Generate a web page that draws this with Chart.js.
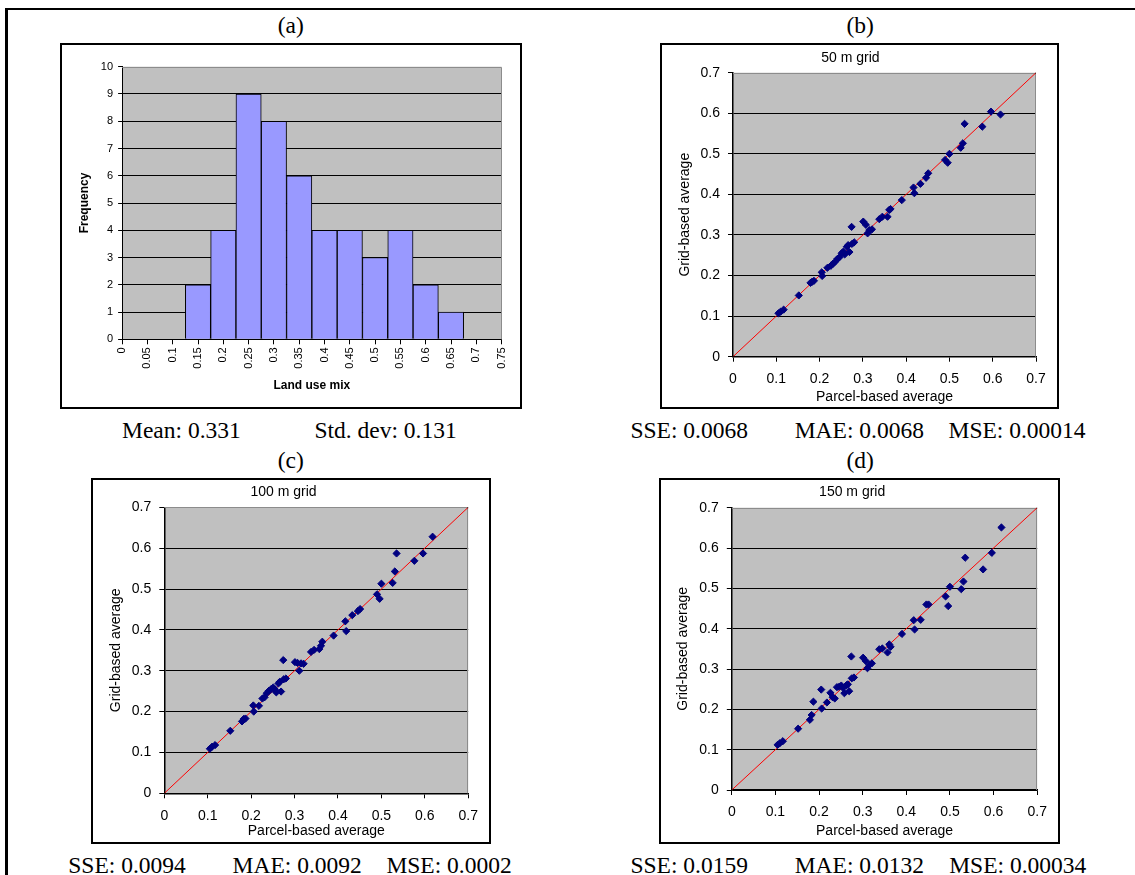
<!DOCTYPE html>
<html><head><meta charset="utf-8">
<script src="https://cdn.jsdelivr.net/npm/chart.js@4.4.0/dist/chart.umd.min.js"></script>
<style>
html,body{margin:0;padding:0;background:#fff;}
body{width:1135px;height:875px;position:relative;overflow:hidden;font-family:"Liberation Serif","Times New Roman",serif;color:#000;}
.frame{position:absolute;left:5px;top:8px;width:1200px;height:1000px;border-left:3px solid #000;border-top:2px solid #000;}
.box{position:absolute;box-sizing:border-box;border:2px solid #000;background:#fff;}
.box canvas{position:absolute;left:0;top:0;}
.lbl{position:absolute;font-size:23.5px;line-height:24px;white-space:nowrap;transform:translateY(-50%);}
.ctr{transform:translate(-50%,-50%);}
.ctitle{position:absolute;font-family:"Liberation Sans",Arial,sans-serif;font-size:14px;line-height:14px;white-space:nowrap;transform:translate(-50%,-50%);}
</style></head>
<body>
<div class="frame"></div>
<script>
// ---------------- DATA ----------------
const histBins   = [0,0.05,0.1,0.15,0.2,0.25,0.3,0.35,0.4,0.45,0.5,0.55,0.6,0.65,0.7,0.75];
const histLabels = ['0','0.05','0.1','0.15','0.2','0.25','0.3','0.35','0.4','0.45','0.5','0.55','0.6','0.65','0.7','0.75'];
const histCounts = [0,0,0,2,4,9,8,6,4,4,3,4,2,1,0,0];
const freqTicks  = [0,1,2,3,4,5,6,7,8,9,10];

const parcelAvg = [0.105,0.110,0.117,0.152,0.179,0.183,0.187,0.205,0.206,0.218,0.226,0.231,0.236,0.241,0.246,0.251,0.255,0.258,0.263,0.266,0.269,0.274,0.275,0.280,0.301,0.307,0.311,0.315,0.321,0.338,0.345,0.357,0.361,0.364,0.390,0.417,0.419,0.433,0.446,0.451,0.490,0.496,0.500,0.526,0.531,0.535,0.576,0.596,0.618];
const grid50  = [0.107,0.111,0.116,0.151,0.182,0.185,0.187,0.208,0.199,0.219,0.224,0.229,0.234,0.241,0.245,0.255,0.259,0.252,0.271,0.275,0.258,0.320,0.278,0.282,0.333,0.325,0.304,0.312,0.314,0.339,0.345,0.345,0.362,0.364,0.386,0.417,0.403,0.426,0.441,0.452,0.485,0.478,0.500,0.515,0.526,0.574,0.567,0.604,0.597];
const grid100 = [0.109,0.114,0.118,0.153,0.176,0.182,0.183,0.215,0.200,0.214,0.232,0.235,0.245,0.251,0.255,0.259,0.254,0.247,0.269,0.273,0.249,0.326,0.279,0.281,0.321,0.319,0.300,0.318,0.317,0.346,0.351,0.353,0.361,0.371,0.386,0.421,0.397,0.436,0.446,0.451,0.487,0.476,0.513,0.515,0.543,0.587,0.569,0.587,0.628];
const grid150 = [0.112,0.116,0.121,0.152,0.174,0.186,0.219,0.249,0.202,0.217,0.241,0.230,0.227,0.255,0.256,0.259,0.253,0.240,0.260,0.262,0.245,0.331,0.277,0.279,0.328,0.320,0.302,0.310,0.314,0.349,0.351,0.341,0.361,0.355,0.387,0.421,0.398,0.422,0.460,0.460,0.480,0.456,0.504,0.498,0.517,0.576,0.547,0.588,0.651];
const avgTicks  = [0,0.1,0.2,0.3,0.4,0.5,0.6,0.7];
const avgLabels = ['0','0.1','0.2','0.3','0.4','0.5','0.6','0.7'];
const diagonal  = [0,0.7];

const panelTags  = ['(a)','(b)','(c)','(d)'];
const gridTitles = ['50 m grid','100 m grid','150 m grid'];
const statsA = ['Mean: 0.331','Std. dev: 0.131'];
const statsB = ['SSE: 0.0068','MAE: 0.0068','MSE: 0.00014'];
const statsC = ['SSE: 0.0094','MAE: 0.0092','MSE: 0.0002'];
const statsD = ['SSE: 0.0159','MAE: 0.0132','MSE: 0.00034'];

// ---------------- LAYOUT ----------------
const BW = 2;
const L = {
  a: {box:[60,43,462,366],  plot:[122.1,66.7,501.6,339.3]},
  b: {box:[660,43,399,366], plot:[733,72.7,1036,356.7]},
  c: {box:[91,478,400,366], plot:[164.3,507.3,468.2,793.3]},
  d: {box:[659,478,401,366],plot:[731.8,507.7,1037.2,790]}
};
const tagPos = [[290.8,25],[860.2,25],[290.8,460],[860.2,460]];
const titlePos = [[850.4,57.3],[283.5,491],[852.2,491]];
const statRows = [
  {texts:statsA, xs:[122,314.4], y:430},
  {texts:statsB, xs:[630.4,794.7,948.5], y:430},
  {texts:statsC, xs:[68.3,232.6,386.4], y:865},
  {texts:statsD, xs:[630.4,794.7,949.2], y:865}
];

function addText(cls, txt, x, y){
  const d = document.createElement('div');
  d.className = cls; d.textContent = txt;
  d.style.left = x+'px'; d.style.top = y+'px';
  document.body.appendChild(d);
}
panelTags.forEach((t,i)=>addText('lbl ctr', t, tagPos[i][0], tagPos[i][1]));
statRows.forEach(r=>r.texts.forEach((t,i)=>addText('lbl', t, r.xs[i], r.y)));

function makeBox(spec){
  const [bl,bt,bw,bh] = spec.box;
  const div = document.createElement('div');
  div.className='box';
  Object.assign(div.style,{left:bl+'px',top:bt+'px',width:bw+'px',height:bh+'px'});
  const cv = document.createElement('canvas');
  const w = bw-2*BW, h = bh-2*BW;
  cv.width = w; cv.height = h;
  cv.style.width = w+'px'; cv.style.height = h+'px';
  div.appendChild(cv);
  document.body.appendChild(div);
  const il = bl+BW, it = bt+BW;
  const [pl,pt,pr,pb] = spec.plot;
  return {cv, w, h, padTop:pt-it, padRight:(il+w)-pr, yW:pl-il, xH:(it+h)-pb, il, it};
}

Chart.defaults.font.family = '"Liberation Sans", Arial, sans-serif';
Chart.defaults.color = '#000';
Chart.defaults.animation = false;

const plotFrame = {
  id:'plotFrame',
  beforeDraw(chart){
    const a = chart.chartArea, ctx = chart.ctx;
    ctx.save();
    ctx.fillStyle = '#C0C0C0';
    ctx.fillRect(a.left, a.top, a.right-a.left, a.bottom-a.top);
    ctx.restore();
  },
  beforeDatasetsDraw(chart){
    const a = chart.chartArea, ctx = chart.ctx;
    const t = Math.round(a.top)+0.5, r = Math.round(a.right)-0.5;
    ctx.save();
    ctx.strokeStyle = '#8C8C8C'; ctx.lineWidth = 1;
    ctx.beginPath();
    ctx.moveTo(a.left, t); ctx.lineTo(r, t); ctx.lineTo(r, a.bottom);
    ctx.stroke();
    ctx.restore();
  }
};

// ---------------- HISTOGRAM (a) ----------------
(function(){
  const g = makeBox(L.a);
  new Chart(g.cv, {
    type:'bar',
    data:{datasets:[{
      data: histBins.map((b,i)=>({x:b,y:histCounts[i]})).filter(p=>p.y>0),
      backgroundColor:'#9999FF', borderColor:'#000', borderWidth:1,
      barPercentage:1, categoryPercentage:1
    }]},
    options:{
      responsive:false, animation:false,
      layout:{padding:{top:g.padTop,right:g.padRight,left:0,bottom:0}},
      plugins:{legend:{display:false},tooltip:{enabled:false},title:{display:false}},
      scales:{
        x:{type:'linear', min:0, max:0.75, offset:false,
           afterBuildTicks(s){ s.ticks = histBins.map(v=>({value:v})); },
           afterFit(s){ s.height = g.xH; },
           grid:{drawOnChartArea:false, drawTicks:true, tickLength:5, color:'#000', offset:false},
           border:{color:'#000', width:1},
           ticks:{autoSkip:false, minRotation:90, maxRotation:90, padding:3, font:{size:11}, color:'#000',
                  callback:(v,i)=>histLabels[i]},
           title:{display:true, text:'Land use mix', color:'#000', font:{size:12, weight:'bold'}, padding:{top:0,bottom:13.8}}
        },
        y:{min:0, max:10,
           afterBuildTicks(s){ s.ticks = freqTicks.map(v=>({value:v})); },
           afterFit(s){ s.width = g.yW; },
           grid:{color:c=>c.tick && c.tick.value===10 ? 'rgba(0,0,0,0)' : '#000', tickColor:'#000', drawTicks:true, tickLength:4, lineWidth:1},
           border:{color:'#000', width:1},
           ticks:{padding:5, font:{size:11}, color:'#000', callback:(v,i)=>String(freqTicks[i])},
           title:{display:true, text:'Frequency', color:'#000', font:{size:12, weight:'bold'}, padding:{top:15.1,bottom:0}}
        }
      }
    },
    plugins:[plotFrame]
  });
})();

// ---------------- SCATTERS (b,c,d) ----------------
function scatter(spec, ys, yTitleX, xTitleY){
  const g = makeBox(spec);
  new Chart(g.cv, {
    type:'scatter',
    data:{datasets:[
      {type:'scatter', data: parcelAvg.map((x,i)=>({x, y:ys[i]})),
       pointStyle:'rectRot', pointRadius:3.6, pointBorderWidth:1,
       backgroundColor:'#000080', borderColor:'#000080', order:0},
      {type:'line', data: diagonal.map(v=>({x:v,y:v})),
       borderColor:'#FF0000', borderWidth:1, pointStyle:'rect', pointRadius:1.2,
       pointBackgroundColor:'#000', pointBorderWidth:0, order:1}
    ]},
    options:{
      responsive:false, animation:false,
      layout:{padding:{top:g.padTop,right:g.padRight,left:0,bottom:0}},
      plugins:{legend:{display:false},tooltip:{enabled:false},title:{display:false}},
      scales:{
        x:{type:'linear', min:0, max:0.7,
           afterBuildTicks(s){ s.ticks = avgTicks.map(v=>({value:v})); },
           afterFit(s){ s.height = g.xH; },
           grid:{drawOnChartArea:false, drawTicks:true, tickLength:5, color:'#000'},
           border:{color:'#000', width:1.5},
           ticks:{autoSkip:false, maxRotation:0, padding:9, font:{size:14}, color:'#000', callback:(v,i)=>avgLabels[i]},
           title:{display:true, text:'Parcel-based average', color:'#000', font:{size:14}, padding:{top:0,bottom:(g.h - (xTitleY - g.it)) - 8.4}}
        },
        y:{type:'linear', min:0, max:0.7,
           afterBuildTicks(s){ s.ticks = avgTicks.map(v=>({value:v})); },
           afterFit(s){ s.width = g.yW; },
           grid:{color:c=>c.tick && c.tick.value>0.65 ? 'rgba(0,0,0,0)' : '#000', tickColor:'#000', drawTicks:true, tickLength:5, lineWidth:1},
           border:{color:'#000', width:1.5},
           ticks:{padding:8, font:{size:14}, color:'#000', callback:(v,i)=>avgLabels[i]},
           title:{display:true, text:'Grid-based average', color:'#000', font:{size:14}, padding:{top:(yTitleX - g.il) - 8.4, bottom:0}}
        }
      }
    },
    plugins:[plotFrame]
  });
}
scatter(L.b, grid50, 685, 396.7);
scatter(L.c, grid100, 116.3, 830.7);
scatter(L.d, grid150, 683.1, 830.7);
gridTitles.forEach((t,i)=>addText('ctitle', t, titlePos[i][0], titlePos[i][1]));
</script>
</body></html>
